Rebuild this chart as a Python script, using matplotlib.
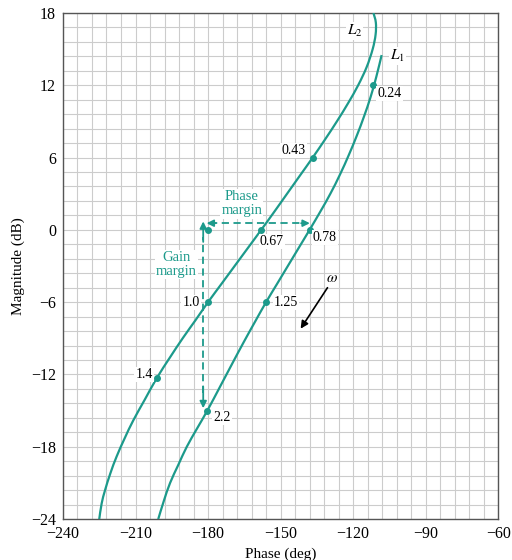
import matplotlib
matplotlib.use("Agg")
import matplotlib.pyplot as plt
from matplotlib.path import Path
from matplotlib.patches import PathPatch
from matplotlib.ticker import MultipleLocator

# traced curves (phase deg, magnitude dB)
l1_phase = [-200.6, -198.3, -195.7, -192.3, -188.8, -184.6, -180.3, -175.0, -170.0,
            -165.2, -160.5, -156.0, -151.5, -147.0, -142.5, -138.0, -133.6, -129.4,
            -125.4, -121.8, -118.5, -115.5, -112.8, -110.4, -108.2]
l1_mag = [-24.0, -22.5, -21.0, -19.5, -18.0, -16.5, -15.0, -13.0, -11.1,
          -9.3, -7.6, -6.0, -4.5, -3.0, -1.5, 0.0, 1.5, 3.0,
          4.6, 6.2, 7.8, 9.4, 11.0, 12.7, 14.5]

l2_phase = [-225.0, -224.0, -222.6, -220.4, -217.8, -214.5, -210.9, -206.2, -201.2,
            -195.8, -190.5, -185.2, -180.0, -174.5, -169.0, -163.5, -158.0, -152.6,
            -147.3, -142.0, -136.7, -131.6, -126.7, -122.1, -117.9, -114.4, -111.9,
            -110.7, -110.6, -111.6]
l2_mag = [-24.0, -22.7, -21.6, -20.2, -18.8, -17.3, -15.8, -14.1, -12.3,
          -10.6, -9.0, -7.5, -6.0, -4.5, -3.0, -1.5, 0.0, 1.5,
          3.0, 4.5, 6.0, 7.5, 9.0, 10.5, 12.0, 13.5, 15.0,
          16.2, 17.2, 18.0]

# labelled frequencies
l1_pts = [(-111.6, 12.0, "0.24"), (-138.0, 0.0, "0.78"), (-156.0, -6.0, "1.25"), (-180.3, -15.0, "2.2")]
l2_pts = [(-136.7, 6.0, "0.43"), (-158.0, 0.0, "0.67"), (-180.0, -6.0, "1.0"), (-201.2, -12.3, "1.4")]
# label text anchors: (x, y, ha)
lab_pos = {"0.24": (-110.0, 11.3, "left"), "0.78": (-136.6, -0.65, "left"),
           "1.25": (-152.8, -6.0, "left"), "2.2": (-177.9, -15.6, "left"),
           "0.43": (-139.6, 6.6, "right"), "0.67": (-158.6, -0.95, "left"),
           "1.0": (-183.5, -6.0, "right"), "1.4": (-202.8, -12.0, "right")}

teal = "#1c9a8b"
plt.rcParams["font.family"] = ["Liberation Serif", "DejaVu Serif"]
plt.rcParams["mathtext.fontset"] = "stix"


def smooth_path(xs, ys):
    # bezier segments through the traced points (catmull-rom tangents)
    pts = list(zip(xs, ys))
    verts = [pts[0]]
    codes = [Path.MOVETO]
    n = len(pts)
    for i in range(n - 1):
        p0 = pts[max(i - 1, 0)]
        p1 = pts[i]
        p2 = pts[i + 1]
        p3 = pts[min(i + 2, n - 1)]
        c1 = (p1[0] + (p2[0] - p0[0]) / 6, p1[1] + (p2[1] - p0[1]) / 6)
        c2 = (p2[0] - (p3[0] - p1[0]) / 6, p2[1] - (p3[1] - p1[1]) / 6)
        verts += [c1, c2, p2]
        codes += [Path.CURVE4] * 3
    return Path(verts, codes)


fig = plt.figure(figsize=(5.12, 5.60), dpi=100)
ax = fig.add_axes([0.123, 0.073, 0.850, 0.904])

for xs, ys in [(l1_phase, l1_mag), (l2_phase, l2_mag)]:
    ax.add_patch(PathPatch(smooth_path(xs, ys), fc="none", ec=teal, lw=1.6,
                           capstyle="butt", zorder=3))

box = dict(fc="white", ec="none", pad=0.8)
for x, y, s in l1_pts + l2_pts:
    ax.plot(x, y, "o", color=teal, ms=4, zorder=4)
    tx, ty, ha = lab_pos[s]
    ax.text(tx, ty, s, ha=ha, va="center", fontsize=10, bbox=box, zorder=5)

# -1 point
ax.plot(-180, 0, "o", color=teal, ms=4, zorder=4)

# phase margin / gain margin arrows
ax.plot([-179.0, -139.5], [0.55, 0.55], color=teal, lw=1.3, ls=(0, (4, 2.5)), zorder=3)
ax.plot([-182.0, -182.0], [-13.5, -0.6], color=teal, lw=1.3, ls=(0, (4, 2.5)), zorder=3)
ap = dict(arrowstyle="-|>", color=teal, lw=1.3, mutation_scale=10, shrinkA=0, shrinkB=0)
ax.annotate("", xy=(-180.6, 0.55), xytext=(-177.0, 0.55), arrowprops=ap, zorder=4)
ax.annotate("", xy=(-137.9, 0.55), xytext=(-141.5, 0.55), arrowprops=ap, zorder=4)
ax.annotate("", xy=(-182.0, 0.7), xytext=(-182.0, -1.0), arrowprops=ap, zorder=4)
ax.annotate("", xy=(-182.0, -14.8), xytext=(-182.0, -13.0), arrowprops=ap, zorder=4)

ax.text(-166.0, 2.15, "Phase\nmargin", ha="center", va="center", color=teal,
        fontsize=10.5, linespacing=1.1, bbox=box, zorder=5)
ax.text(-193.0, -2.9, "Gain\nmargin", ha="center", va="center", color=teal,
        fontsize=10.5, linespacing=1.1, bbox=box, zorder=5)

# omega direction
ax.annotate("", xy=(-141.7, -8.2), xytext=(-130.6, -4.8),
            arrowprops=dict(arrowstyle="-|>", color="black", lw=1.2, mutation_scale=11,
                            shrinkA=0, shrinkB=0), zorder=4)
ax.text(-128.6, -4.0, r"$\omega$", ha="center", va="center", fontsize=11)

ax.text(-122.6, 16.5, r"$L_2$", ha="left", va="center", fontsize=11, bbox=box, zorder=5)
ax.text(-104.7, 14.4, r"$L_1$", ha="left", va="center", fontsize=11, bbox=box, zorder=5)

ax.set_xlim(-240, -60)
ax.set_ylim(-24, 18)
ax.xaxis.set_major_locator(MultipleLocator(30))
ax.xaxis.set_minor_locator(MultipleLocator(6))
ax.yaxis.set_major_locator(MultipleLocator(6))
ax.yaxis.set_minor_locator(MultipleLocator(1.2))
ax.grid(True, which="both", color="#cccccc", lw=0.8)
ax.set_axisbelow(True)
ax.tick_params(which="both", length=0, labelsize=11.5, pad=5)
for sp in ax.spines.values():
    sp.set_color("#555555")
    sp.set_linewidth(1.0)

ax.set_xlabel("Phase (deg)", fontsize=11, labelpad=4)
ax.set_ylabel("Magnitude (dB)", fontsize=11, labelpad=4)

fig.savefig("out.png", dpi=100)
